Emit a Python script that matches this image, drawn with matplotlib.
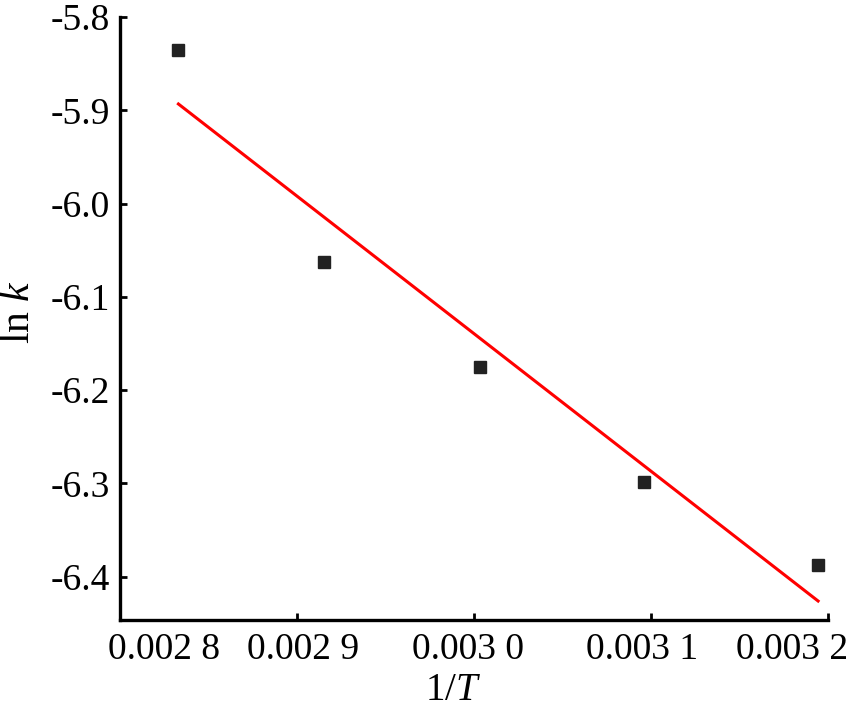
import numpy as np
import matplotlib
matplotlib.use("Agg")
import matplotlib.pyplot as plt
from matplotlib.transforms import ScaledTranslation

plt.rcParams['font.family'] = ['Liberation Serif', 'DejaVu Serif']
plt.rcParams['mathtext.fontset'] = 'custom'
plt.rcParams['mathtext.rm'] = 'Liberation Serif'
plt.rcParams['mathtext.it'] = 'Liberation Serif:italic'

# data
inv_T = [0.002833, 0.0029154, 0.0030033, 0.0030958, 0.0031944]
ln_k = [-5.835, -6.0625, -6.1756, -6.2983, -6.3876]
x_ticks = [0.0028, 0.0029, 0.0030, 0.0031, 0.0032]
x_ticklabels = ["0.002 8", "0.002 9", "0.003 0", "0.003 1", "0.003 2"]
y_ticks = [-5.8, -5.9, -6.0, -6.1, -6.2, -6.3, -6.4]
y_ticklabels = ["-5.8", "-5.9", "-6.0", "-6.1", "-6.2", "-6.3", "-6.4"]

# horizontal shift of each x tick label (pixels), as in the reference layout
x_label_shift_px = [44, 6, -6.5, -8.5, -35.5]

fig = plt.figure(figsize=(8.5, 7.08), dpi=100)
ax = fig.add_axes([120/850, 1-620/708, (828-120)/850, (620-17)/708])

coef = np.polyfit(inv_T, ln_k, 1)
xf = np.array([inv_T[0], inv_T[-1]])
ax.plot(xf, np.polyval(coef, xf), color='#ff0000', lw=2.2, zorder=2)
ax.plot(inv_T, ln_k, 's', color='#222222', ms=9, zorder=3)

ax.set_xlim(0.0028, 0.0032)
ax.set_ylim(-6.4464, -5.8)
ax.set_xticks(x_ticks)
ax.set_xticklabels(x_ticklabels)
ax.set_yticks(y_ticks)
ax.set_yticklabels(y_ticklabels)

for s in ['top', 'right']:
    ax.spines[s].set_visible(False)
for s in ['left', 'bottom']:
    ax.spines[s].set_linewidth(2.4)
ax.tick_params(direction='in', length=5, width=2, labelsize=27, pad=7)
ax.tick_params(axis='x', pad=9)

for lab, dx in zip(ax.get_xticklabels(), x_label_shift_px):
    lab.set_transform(lab.get_transform() + ScaledTranslation(dx/100, 0, fig.dpi_scale_trans))

fig.text(453/850, 1-691/708, r'1/$\mathit{T}$', fontsize=28, ha='center', va='center')
fig.text(19/850, 1-312/708, r'ln $\mathit{k}$', fontsize=30, ha='center', va='center', rotation=90)

fig.savefig('out.png', dpi=100)
